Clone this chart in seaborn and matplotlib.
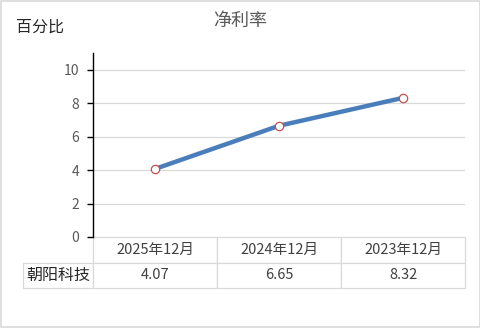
import matplotlib
matplotlib.use("Agg")
import matplotlib.pyplot as plt
import seaborn as sns
import pandas as pd

categories = ["2025年12月", "2024年12月", "2023年12月"]
values = [4.07, 6.65, 8.32]
series_name = "朝阳科技"
yticks = [0, 2, 4, 6, 8, 10]
title = "净利率"
ylabel = "百分比"

sns.set_theme(style="white")
plt.rcParams["font.family"] = ["Noto Sans CJK SC", "DejaVu Sans"]

df = pd.DataFrame({"x": [0.5, 1.5, 2.5], "v": values})

fig = plt.figure(figsize=(4.81, 3.28), dpi=100)
ax = fig.add_axes([93 / 481, 1 - 237 / 328, 372 / 481, 184 / 328])

sns.lineplot(data=df, x="x", y="v", ax=ax, color="#4a7ebb", linewidth=3.2,
             marker="o", markersize=6, markerfacecolor="white",
             markeredgecolor="#c0504d", markeredgewidth=0.9, zorder=3)

ax.set_xlim(0, 3)
ax.set_ylim(0, 11)
ax.set_yticks(yticks)
ax.set_yticklabels([str(t) for t in yticks], color="#595959", fontsize=10)
ax.set_xticks([])
ax.set_xlabel("")
ax.set_ylabel("")
for y in yticks[1:]:
    ax.axhline(y, color="#d9d9d9", linewidth=0.9, zorder=1)
for s in ["top", "right", "bottom"]:
    ax.spines[s].set_visible(False)
ax.spines["left"].set_color("black")
ax.spines["left"].set_linewidth(1.0)
ax.tick_params(axis="y", which="both", left=True, length=4, width=1,
               color="black", pad=6)

# data table
cell_text = [[""] + categories, [series_name] + [f"{v:.2f}" for v in values]]
tbl = ax.table(cellText=cell_text, cellLoc="center",
               colWidths=[70, 124, 124, 124],
               bbox=[-70 / 372, -51 / 184, 442 / 372, 51 / 184])
tbl.auto_set_font_size(False)
for (r, c), cell in tbl.get_celld().items():
    cell.set_edgecolor("#d9d9d9")
    cell.set_linewidth(0.9)
    cell.get_text().set_color("#404040")
    cell.get_text().set_fontsize(10.5)
    if r == 0 and c == 0:
        cell.visible_edges = ""
    if c == 0 and r == 1:
        cell.get_text().set_fontsize(11.5)
        cell.get_text().set_color("#262626")

fig.text(240 / 481, 1 - 21 / 328, title, ha="center", va="center",
         fontsize=13, color="#595959")
fig.text(40 / 481, 1 - 27 / 328, ylabel, ha="center", va="center",
         fontsize=11.5, color="#262626")

# figure border
fig.patches.append(plt.Rectangle((0.002, 0.003), 0.996, 0.994, transform=fig.transFigure,
                                 fill=False, edgecolor="#d9d9d9", linewidth=1.2))

fig.savefig("out.png", dpi=100)
